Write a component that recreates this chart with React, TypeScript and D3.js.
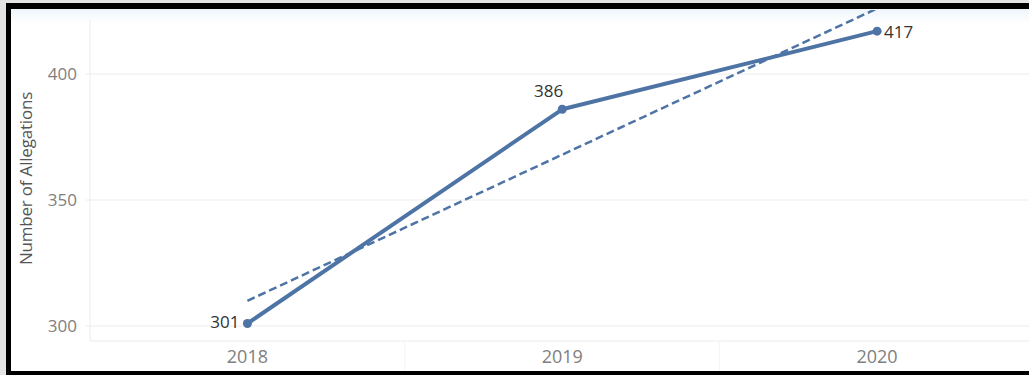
import React from "react";
import * as d3 from "d3";

const years = ["2018", "2019", "2020"];
const allegations = [301, 386, 417];
const yTicks = [300, 350, 400];

const W = 1029;
const H = 375;
const plot = { left: 90, right: 1034.5, top: 10, bottom: 341 };

export default function App() {
  const x = d3.scalePoint<string>().domain(years).range([plot.left, plot.right]).padding(0.5);
  const y = d3.scaleLinear().domain([300 - 15 / 2.52, 300 + 316 / 2.52]).range([plot.bottom, plot.top]);

  // linear trend (least squares)
  const xs = years.map((_, i) => i);
  const mx = d3.mean(xs) as number;
  const my = d3.mean(allegations) as number;
  const slope =
    d3.sum(xs.map((xi, i) => (xi - mx) * (allegations[i] - my))) /
    d3.sum(xs.map((xi) => (xi - mx) * (xi - mx)));
  const intercept = my - slope * mx;
  const trend = xs.map((xi, i) => ({ yr: years[i], v: intercept + slope * xi }));

  const line = d3
    .line<{ yr: string; v: number }>()
    .x((d) => x(d.yr) as number)
    .y((d) => y(d.v));
  const data = years.map((yr, i) => ({ yr, v: allegations[i] }));
  const blue = "#4e74a6";
  const font = "'Open Sans', 'DejaVu Sans', sans-serif";

  return (
    <svg width={W} height={H} style={{ position: "absolute", left: 0, top: 0 }} fontFamily={font}>
      <defs>
        <clipPath id="plotclip">
          <rect x={plot.left} y={plot.top} width={plot.right - plot.left} height={plot.bottom - plot.top} />
        </clipPath>
        <linearGradient id="topfade" x1="0" y1="0" x2="0" y2="1">
          <stop offset="0" stopColor="#eef5fb" />
          <stop offset="1" stopColor="#ffffff" />
        </linearGradient>
      </defs>
      <rect x={0} y={0} width={W} height={H} fill="#e4e4e4" />
      <rect x={6} y={3} width={W - 6} height={H - 3} fill="#000" />
      <rect x={11} y={9} width={W - 11} height={H - 9 - 4} fill="#fff" />
      <rect x={11} y={9} width={W - 11} height={14} fill="url(#topfade)" />

      {/* gridlines */}
      {yTicks.map((t) => (
        <line key={t} x1={86} x2={W} y1={y(t)} y2={y(t)} stroke="#ececec" strokeWidth={1} />
      ))}
      {/* axes */}
      <line x1={plot.left} x2={plot.left} y1={20} y2={plot.bottom} stroke="#ececec" strokeWidth={1} />
      <line x1={plot.left} x2={W} y1={plot.bottom} y2={plot.bottom} stroke="#ececec" strokeWidth={1} />
      {[1, 2].map((i) => (
        <line
          key={i}
          x1={plot.left + i * x.step()}
          x2={plot.left + i * x.step()}
          y1={plot.bottom}
          y2={H - 4}
          stroke="#f4f4f4"
          strokeWidth={1}
        />
      ))}

      {/* y tick labels */}
      {yTicks.map((t) => (
        <text key={t} x={77} y={y(t)} dy="0.36em" textAnchor="end" fontSize={17} fill="#808080">
          {t}
        </text>
      ))}
      <text
        transform={`translate(32, ${(plot.top + plot.bottom) / 2 + 3}) rotate(-90)`}
        textAnchor="middle"
        fontSize={17}
        fill="#555"
        letterSpacing={-0.2}
      >
        Number of Allegations
      </text>

      {/* x tick labels */}
      {years.map((yr) => (
        <text key={yr} x={x(yr)} y={363} textAnchor="middle" fontSize={18} fill="#808080">
          {yr}
        </text>
      ))}

      {/* trend line */}
      <g clipPath="url(#plotclip)">
        <path d={line(trend) as string} fill="none" stroke={blue} strokeWidth={2.5} strokeDasharray="8,4" />
      </g>

      {/* main line */}
      <path d={line(data) as string} fill="none" stroke={blue} strokeWidth={4} strokeLinejoin="round" />
      {data.map((d) => (
        <circle key={d.yr} cx={x(d.yr)} cy={y(d.v)} r={4.5} fill={blue} />
      ))}

      {/* value labels */}
      <text x={(x("2018") as number) - 8} y={y(301) + 5} textAnchor="end" fontSize={17} fill="#333">
        301
      </text>
      <text x={(x("2019") as number) + 1} y={y(386) - 12} textAnchor="end" fontSize={17} fill="#333">
        386
      </text>
      <text x={(x("2020") as number) + 7} y={y(417) + 7} textAnchor="start" fontSize={17} fill="#333">
        417
      </text>
    </svg>
  );
}
